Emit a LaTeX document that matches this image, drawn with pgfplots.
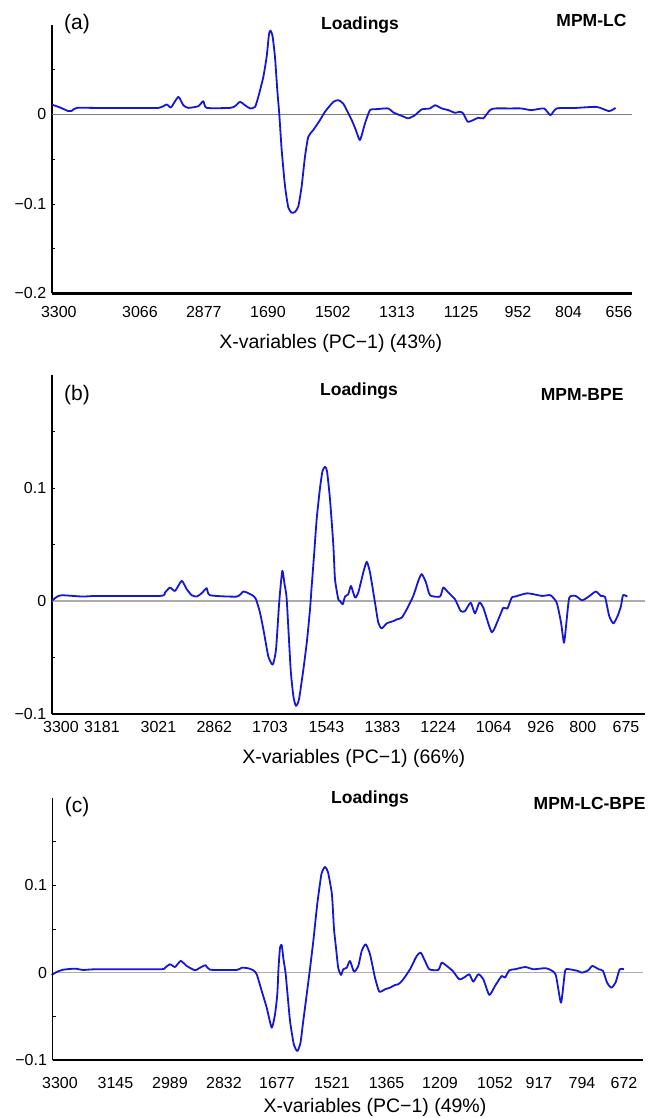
\documentclass[border=0pt]{standalone}
\usepackage{fontspec}
\setmainfont{Liberation Sans}
\usepackage{pgfplots}
\usepackage{pgfplotstable}
\pgfplotsset{compat=1.18}
\definecolor{LoadBlue}{RGB}{22,22,215}
\definecolor{ZeroA}{RGB}{125,125,125}
\definecolor{ZeroB}{RGB}{172,172,172}

% x = position along the variable axis (same units as the picture width), y = loading
\pgfplotstableread{
x y
51.7 0.0111
60 0.0078
68.3 0.0037
71.7 0.0040
76.7 0.0073
100 0.0072
126.7 0.0072
158.3 0.0073
166.7 0.0111
171 0.0078
178.3 0.0196
183.3 0.0103
188.3 0.0073
198.3 0.0092
203.3 0.0148
206.7 0.0073
230 0.0073
235 0.0092
240 0.0140
245 0.0103
250 0.0067
255 0.0084
258.3 0.0196
263.3 0.0418
266.7 0.0650
269 0.0900
270.5 0.0937
272.5 0.0880
275 0.0640
277.3 0.0270
279.3 0.0
281.7 -0.040
285 -0.080
288.3 -0.104
291.7 -0.110
295 -0.109
298.3 -0.103
301.7 -0.080
305 -0.047
308.3 -0.025
313.3 -0.0174
320 -0.0063
325 0.003
333.3 0.014
338.3 0.0159
343.3 0.012
351.7 -0.0063
356 -0.018
360 -0.0286
365 -0.010
370 0.0048
376.7 0.0059
388.3 0.0067
393.3 0.0022
401.7 -0.0016
408.3 -0.0044
415 -0.0008
421.7 0.0056
430 0.0067
435 0.0103
441.7 0.0067
448.3 0.0048
455 0.0018
460 0.0030
463.3 0.0010
467.7 -0.0082
473.3 -0.0063
478.3 -0.0037
483.3 -0.0044
490 0.0048
495 0.0067
510 0.0067
521 0.0067
531.5 0.0048
544 0.0067
550.4 -0.0008
556.7 0.0067
575 0.0072
596.6 0.0084
609 0.0037
615.5 0.0073
}\loadA

\pgfplotstableread{
x y
51.7 0
56.7 0.0036
61.7 0.0051
83.3 0.0039
96.7 0.0045
160 0.0045
165 0.0075
170 0.0119
175 0.0089
181.7 0.0178
186.7 0.0104
191.7 0.0051
196.7 0.0039
201.7 0.0069
206.7 0.0113
210 0.0051
236.7 0.0039
243.3 0.0084
248.3 0.0069
253.3 0.0045
256 0.0015
260 -0.0103
264 -0.0281
268.3 -0.049
272.7 -0.0563
276 -0.043
279.3 0.0
282.3 0.0267
284.5 0.015
286.7 0.0015
290.7 -0.061
293.5 -0.085
296 -0.0928
299 -0.087
303.3 -0.061
307 -0.035
310 -0.0074
311.7 0.0133
314 0.040
316.7 0.0727
320 0.100
322.5 0.115
325 0.1187
327 0.115
330 0.090
333.3 0.050
335 0.0193
338.3 0.0015
340 0
342.7 -0.003
345 0.0039
348.3 0.006
351 0.0133
355 0.003
358.3 0.0075
363.3 0.0253
366.7 0.0347
370 0.0253
375 -0.0015
378.3 -0.0192
381.7 -0.0243
386.7 -0.0198
393.3 -0.0178
396.7 -0.0163
401.7 -0.0148
406.7 -0.0074
413.3 0.0045
418.3 0.0178
421.7 0.0238
426 0.0164
430 0.0051
440 0.0039
443.3 0.0119
448.3 0.0075
455 0.0015
460.7 -0.0089
465 -0.0089
470.7 -0.0015
475 -0.011
479.3 -0.0015
483.3 -0.0059
491.7 -0.0276
498.3 -0.0163
503.3 -0.0059
507.3 -0.0068
511.7 0.003
515 0.0039
527.3 0.0068
542 0.0045
550.4 0.0051
556.7 -0.0015
561 -0.019
564 -0.037
566.4 -0.019
569.3 0.003
575.6 0.0045
582 0.0006
588.2 0.0036
595.8 0.0084
600.8 0.0045
605 0.0036
609.2 -0.0133
613.4 -0.0198
617.6 -0.0133
621 -0.0044
623 0.0051
627.3 0.0039
}\loadB

\pgfplotstableread{
x y
51.7 -0.0026
56.7 0.0008
63.3 0.0034
75 0.0046
83.3 0.0031
96.7 0.0039
160 0.0039
165 0.0057
170 0.0096
175 0.0065
180.7 0.0134
186.7 0.0077
195 0.0027
200 0.0057
205.7 0.0085
210 0.0034
236.7 0.0031
241.7 0.0057
248.3 0.0050
253.3 0.0027
256.7 -0.0018
261.7 -0.021
266.7 -0.040
271.7 -0.063
275 -0.0477
277.3 -0.0247
278.5 0.005
280 0.0286
281.7 0.0317
283.5 0.015
285.7 -0.0018
290 -0.055
294 -0.083
297.5 -0.0897
300.5 -0.080
303.3 -0.055
309.3 -0.0018
313.3 0.036
317.2 0.078
321.4 0.1127
325 0.121
328 0.115
331.9 0.0898
334 0.050
336 0.0286
338.2 0.0057
341 -0.0026
343.3 0.0039
346.7 0.0057
350 0.0134
354 0.0011
358.3 0.0077
361.7 0.0249
365.7 0.0325
370 0.021
375 -0.0057
379.3 -0.0218
385 -0.019
390 -0.0172
395 -0.0141
398.3 -0.0133
403.3 -0.0076
410 0.0039
416.7 0.0191
420.7 0.0229
425 0.0134
429.3 0.0039
438.3 0.0031
441.7 0.0115
446.7 0.0077
452.7 0.0020
459.3 -0.0076
465 -0.0049
469.3 -0.0018
473.3 -0.0103
478.3 -0.0018
483.3 -0.0076
489.3 -0.0255
495 -0.0152
501.7 -0.0038
505 -0.0057
509.3 0.0027
515 0.0039
525.2 0.0065
533.6 0.0039
546.2 0.0050
555.5 -0.0018
561 -0.0344
565.1 0.0020
569.3 0.0039
577.7 0.0020
582 0
588.2 0.0027
592.4 0.0077
598.7 0.0039
603 0.0020
607.1 -0.0115
611.3 -0.0172
615.5 -0.0115
619.7 0.0039
624 0.0039
}\loadC

\pgfplotsset{
  loadpanel/.style={
    scale only axis, anchor=south west, clip=false,
    axis x line*=bottom, axis y line*=left,
    axis line style={-,black},
    xtick style={draw=none},
    ytick style={black,line width=0.6pt},
    tick align=inside, major tick length=3pt, minor tick length=3pt,
    ticklabel style={font=\fontsize{16}{19}\selectfont},
    xticklabel style={anchor=center},
    yticklabel style={anchor=east,xshift=-2pt},
  },
  curve/.style={LoadBlue,line width=1.8pt,line join=round,smooth,tension=0.35},
}
\tikzset{
  labtxt/.style={font=\fontsize{19.5}{23}\selectfont},
  ttl/.style={font=\fontsize{17.5}{21}\selectfont\bfseries},
  paneltag/.style={font=\fontsize{21}{24}\selectfont},
  baseline/.style={black,line width=2.6pt},
  leftline/.style={black,line width=1.5pt},
}

\begin{document}
\begin{tikzpicture}
\path[use as bounding box] (0pt,0pt) rectangle (655pt,1118pt);

% (a)
\begin{axis}[loadpanel, at={(51.7pt,824.7pt)}, width=580.3pt, height=268.3pt,
  xmin=51.7, xmax=632, ymin=-0.2, ymax=0.1,
  xtick={58.8,139.9,203.8,268,332.8,397,461,518,568.5,619},
  xticklabels={3300,3066,2877,1690,1502,1313,1125,952,804,656},
  xticklabel style={yshift=-18.7pt},
  ytick={-0.2,-0.1,0}, yticklabels={−0.2,−0.1,0},
  minor ytick={-0.15,-0.05,0.05}]
\addplot[ZeroA,line width=1.1pt] coordinates {(51.7,0) (632,0)};
\addplot[curve] table {\loadA};
\draw[leftline] (rel axis cs:0,0) -- (rel axis cs:0,1);
\draw[baseline] (rel axis cs:0,0) -- (rel axis cs:1,0);
\end{axis}
\node[paneltag] at (77pt,1094pt) {(a)};
\node[ttl] at (360pt,1093pt) {Loadings};
\node[ttl,anchor=east] at (630pt,1098pt) {MPM-LC};
\node[labtxt] at (330.7pt,775pt) {X-variables (PC−1) (43\%)};

% (b)
\begin{axis}[loadpanel, at={(51.7pt,404pt)}, width=593.3pt, height=339pt,
  xmin=51.7, xmax=645, ymin=-0.1, ymax=0.2,
  xtick={61,102,158.4,214.3,270,326.5,382.4,438.2,493.7,540.8,582.8,626},
  xticklabels={3300,3181,3021,2862,1703,1543,1383,1224,1064,926,800,675},
  xticklabel style={yshift=-13.3pt},
  ytick={-0.1,0,0.1}, yticklabels={−0.1,0,0.1},
  minor ytick={-0.05,0.05,0.15}]
\addplot[ZeroB,line width=1.1pt] coordinates {(51.7,0) (645,0)};
\addplot[curve] table {\loadB};
\draw[leftline] (rel axis cs:0,0) -- (rel axis cs:0,1);
\draw[baseline] (rel axis cs:0,0) -- (rel axis cs:1,0);
\end{axis}
\node[paneltag] at (77pt,723pt) {(b)};
\node[ttl] at (359pt,727.3pt) {Loadings};
\node[ttl,anchor=east] at (627pt,724pt) {MPM-BPE};
\node[labtxt] at (353.8pt,360pt) {X-variables (PC−1) (66\%)};

% (c)
\begin{axis}[loadpanel, at={(52.5pt,58pt)}, width=590.5pt, height=262pt,
  xmin=52.5, xmax=643, ymin=-0.1, ymax=0.2,
  xtick={60,115.5,170,224,277,332,386.6,440,495,539,582,624},
  xticklabels={3300,3145,2989,2832,1677,1521,1365,1209,1052,917,794,672},
  xticklabel style={yshift=-22.7pt},
  ytick={-0.1,0,0.1}, yticklabels={−0.1,0,0.1},
  minor ytick={-0.05,0.05,0.15}]
\addplot[ZeroB,line width=1.1pt] coordinates {(52.5,0) (643,0)};
\addplot[curve] table {\loadC};
\draw[leftline] (rel axis cs:0,0) -- (rel axis cs:0,1);
\draw[baseline] (rel axis cs:0,0) -- (rel axis cs:1,0);
\end{axis}
\node[paneltag] at (77pt,311pt) {(c)};
\node[ttl] at (370pt,319pt) {Loadings};
\node[ttl,anchor=east] at (649pt,315pt) {MPM-LC-BPE};
\node[labtxt] at (375pt,11pt) {X-variables (PC−1) (49\%)};
\end{tikzpicture}
\end{document}
